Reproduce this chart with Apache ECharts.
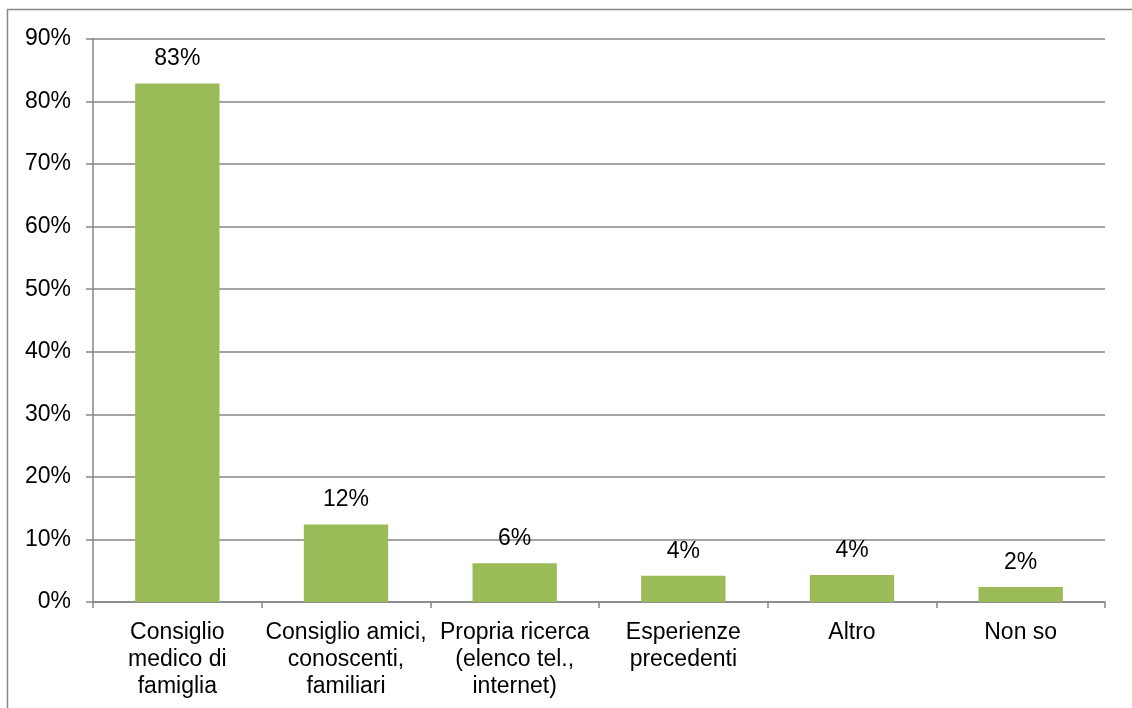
<!DOCTYPE html>
<html>
<head>
<meta charset="utf-8">
<script src="https://cdn.jsdelivr.net/npm/echarts@6/dist/echarts.min.js"></script>
<style>
html,body{margin:0;padding:0;background:#fff;}
#chart{width:1132px;height:708px;}
</style>
</head>
<body>
<div id="chart"></div>
<script>
const categories = [
  "Consiglio\nmedico di\nfamiglia",
  "Consiglio amici,\nconoscenti,\nfamiliari",
  "Propria ricerca\n(elenco tel.,\ninternet)",
  "Esperienze\nprecedenti",
  "Altro",
  "Non so"
];
const values = [82.9, 12.4, 6.2, 4.2, 4.3, 2.4];
const yTicks = [0, 10, 20, 30, 40, 50, 60, 70, 80, 90];

const chart = echarts.init(document.getElementById('chart'));
const font = 'Liberation Sans, Arial, sans-serif';
chart.setOption({
  animation: false,
  backgroundColor: '#fff',
  graphic: [{
    type: 'rect',
    shape: { x: 7.5, y: 9.5, width: 1200, height: 800 },
    style: { fill: 'none', stroke: '#868686', lineWidth: 1.5 },
    silent: true
  }],
  grid: { left: 93, right: 27, top: 39, bottom: 106, containLabel: false },
  xAxis: {
    type: 'category',
    data: categories,
    axisLine: { lineStyle: { color: '#868686', width: 1.5 } },
    axisTick: { show: true, alignWithLabel: false, length: 6, lineStyle: { color: '#868686', width: 1.5 } },
    axisLabel: { color: '#000', fontFamily: font, fontSize: 23, lineHeight: 27, margin: 17, interval: 0 }
  },
  yAxis: {
    type: 'value',
    min: yTicks[0],
    max: yTicks[yTicks.length - 1],
    interval: 10,
    axisLine: { show: true, lineStyle: { color: '#868686', width: 1.5 } },
    axisTick: { show: true, length: 7, lineStyle: { color: '#868686', width: 1.5 } },
    axisLabel: { color: '#000', fontFamily: font, fontSize: 23, margin: 22, formatter: v => v + '%' },
    splitLine: { show: true, lineStyle: { color: '#868686', width: 1.5 } }
  },
  series: [{
    type: 'bar',
    data: values,
    barCategoryGap: '50%',
    itemStyle: { color: '#9BBB59' },
    label: {
      show: true,
      position: 'top',
      distance: 13,
      color: '#000',
      fontFamily: font,
      fontSize: 23,
      formatter: p => Math.round(p.value) + '%'
    }
  }]
});
</script>
</body>
</html>
